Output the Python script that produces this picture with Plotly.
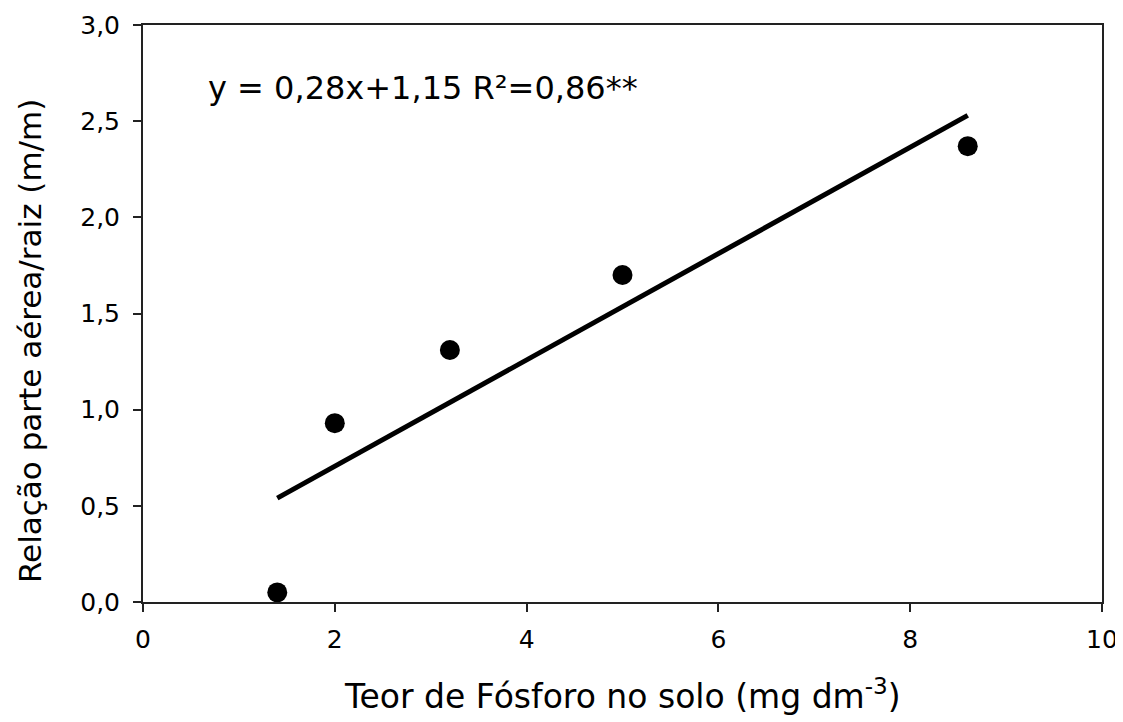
import plotly.graph_objects as go

# Data
p_solo = [1.4, 2.0, 3.2, 5.0, 8.6]
relacao = [0.05, 0.93, 1.31, 1.70, 2.37]
line_x = [1.4, 8.6]
line_y = [0.54, 2.53]
x_ticks = [0, 2, 4, 6, 8, 10]
y_ticks = [0.0, 0.5, 1.0, 1.5, 2.0, 2.5, 3.0]
y_tick_labels = ["0,0", "0,5", "1,0", "1,5", "2,0", "2,5", "3,0"]

font = "DejaVu Sans, sans-serif"

fig = go.Figure()
fig.add_trace(go.Scatter(x=line_x, y=line_y, mode="lines",
                         line=dict(color="black", width=5), showlegend=False))
fig.add_trace(go.Scatter(x=p_solo, y=relacao, mode="markers",
                         marker=dict(color="black", size=20), showlegend=False))

fig.add_annotation(x=0.66, y=2.67, xref="x", yref="y", xanchor="left", yanchor="middle",
                   text="y = 0,28x+1,15 R²=0,86**", showarrow=False,
                   font=dict(family=font, size=32, color="black"))

# axis titles as annotations for precise placement
fig.add_annotation(x=0.5, y=-0.161, xref="paper", yref="paper", xanchor="center", yanchor="middle",
                   text="Teor de Fósforo no solo (mg dm<sup>-3</sup>)", showarrow=False,
                   font=dict(family=font, size=33, color="black"))
fig.add_annotation(x=-0.118, y=0.452, xref="paper", yref="paper", xanchor="center", yanchor="middle",
                   text="Relação parte aérea/raiz (m/m)", showarrow=False, textangle=-90,
                   font=dict(family=font, size=31, color="black"))

fig.update_layout(
    width=1115, height=714,
    margin=dict(l=135, r=21, t=17, b=120),
    paper_bgcolor="white", plot_bgcolor="white",
    font=dict(family=font, color="black"),
    xaxis=dict(range=[0, 10], tickvals=x_ticks, ticktext=[str(v) for v in x_ticks],
               ticks="outside", ticklen=8, tickwidth=2, tickcolor="#222",
               showline=True, linecolor="#222", linewidth=2, mirror=True,
               showgrid=False, zeroline=False, automargin=False,
               ticklabelstandoff=6,
               tickfont=dict(size=25, family=font)),
    yaxis=dict(range=[0, 3], tickvals=y_ticks, ticktext=y_tick_labels,
               ticks="outside", ticklen=8, tickwidth=2, tickcolor="#222",
               showline=True, linecolor="#222", linewidth=2, mirror=True,
               showgrid=False, zeroline=False, automargin=False,
               ticklabelstandoff=8,
               tickfont=dict(size=25, family=font)),
)

fig.write_html("out.html")
